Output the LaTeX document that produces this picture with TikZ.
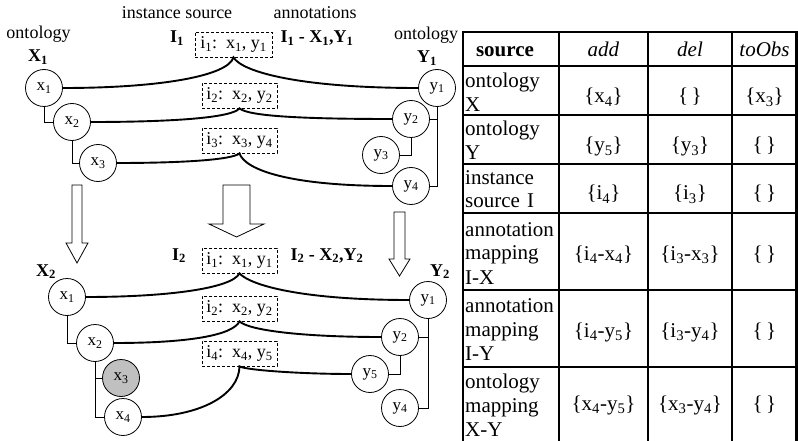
\documentclass[tikz,border=0pt]{standalone}
\usepackage{fontspec}
\setmainfont{Liberation Serif}
\newcommand{\sbs}[1]{\textsubscript{#1}}
\begin{document}
\begin{tikzpicture}[x=1pt,y=-1pt,
  lbl/.style={font=\fontsize{18}{21}\selectfont, inner sep=0, anchor=base},
  blbl/.style={font=\fontsize{18}{21}\selectfont\bfseries, inner sep=0, anchor=base},
  cnode/.style={circle, draw, line width=0.8pt, minimum size=37pt, inner sep=0, font=\fontsize{17}{20}\selectfont},
  ibox/.style={draw, dashed, dash pattern=on 3pt off 2pt, line width=0.7pt, minimum height=25pt, inner sep=0, font=\fontsize{18}{21}\selectfont},
  link/.style={line width=1.9pt},
  tree/.style={line width=0.8pt},
  barrow/.style={draw, line width=0.8pt, fill=white},
  tline/.style={line width=2.2pt},
  ccell/.style={font=\fontsize{21}{24}\selectfont, inner sep=0, anchor=base},
  lcell/.style={font=\fontsize{21}{24}\selectfont, inner sep=0, anchor=base west, text width=94pt, align=left},
]
\fill[white] (0,0) rectangle (798,441);
\useasboundingbox (0,0) rectangle (798,441);

% ---------- top state ----------
\node[lbl] (lonto) at (38.5,39) {ontology};
\node[blbl] (lX1) at (38,62) {X\sbs{1}};
\node[lbl] (linst) at (177,19) {instance source};
\node[lbl] (lann) at (315,19) {annotations};
\node[blbl] (lI1) at (177,43) {I\sbs{1}};
\node[blbl] (lIX1) at (317,43) {I\sbs{1} - X\sbs{1},Y\sbs{1}};
\node[lbl] (ronto) at (426,40) {ontology};
\node[blbl] (lY1) at (427,63) {Y\sbs{1}};

\node[cnode] (ax1) at (44,88) {x\sbs{1}};
\node[cnode] (ax2) at (72,122) {x\sbs{2}};
\node[cnode] (ax3) at (98,163) {x\sbs{3}};
\node[cnode] (ay1) at (437,88) {y\sbs{1}};
\node[cnode] (ay2) at (411,119) {y\sbs{2}};
\node[cnode] (ay3) at (381,155) {y\sbs{3}};
\node[cnode] (ay4) at (411,186) {y\sbs{4}};

\node[ibox, minimum width=77pt] (ab1) at (233.5,44.5) {i\sbs{1}:\ \ x\sbs{1}, y\sbs{1}};
\node[ibox, minimum width=75pt] (ab2) at (239.5,95.5) {i\sbs{2}:\ \ x\sbs{2}, y\sbs{2}};
\node[ibox, minimum width=75pt] (ab3) at (239.5,140.5) {i\sbs{3}:\ \ x\sbs{3}, y\sbs{4}};

\draw[tree] (ax1.south) |- (ax2.west);
\draw[tree] (ax2.south) |- (ax3.west);
\draw[tree] (ay1.south) |- (ay2.east);
\draw[tree] (ay1.south) |- (ay4.east);
\draw[tree] (ay2.south) |- (ay3.east);

\draw[link] (ax1.east) .. controls (160,88) and (228,76) .. (ab1.south) .. controls (242,72) and (300,88) .. (ay1.west);
\draw[link] (ax2.east) .. controls (170,122) and (232,118) .. (ab2.south) .. controls (248,116) and (300,119) .. (ay2.west);
\draw[link] (ax3.east) .. controls (180,163) and (232,160) .. (ab3.south) .. controls (245,170) and (290,186) .. (ay4.west);

% ---------- block arrows ----------
\draw[barrow] (72,185) -- (82,185) -- (82,243) -- (88,243) -- (77,263) -- (66,243) -- (72,243) -- cycle;
\draw[barrow] (223,185) -- (250,185) -- (250,224) -- (264,224) -- (236.5,237) -- (209,224) -- (223,224) -- cycle;
\draw[barrow] (394,212) -- (405,212) -- (405,259) -- (410,259) -- (399.5,276) -- (389,259) -- (394,259) -- cycle;

% ---------- bottom state ----------
\node[blbl] (lI2) at (179,260) {I\sbs{2}};
\node[blbl] (lIX2) at (327,260) {I\sbs{2} - X\sbs{2},Y\sbs{2}};
\node[blbl] (lX2) at (46,276) {X\sbs{2}};
\node[blbl] (lY2) at (440,276) {Y\sbs{2}};

\node[cnode] (bx1) at (67,297) {x\sbs{1}};
\node[cnode] (bx2) at (95,343) {x\sbs{2}};
\node[cnode, fill={rgb,255:red,192;green,192;blue,192}] (bx3) at (121,378) {x\sbs{3}};
\node[cnode] (bx4) at (123,417) {x\sbs{4}};
\node[cnode] (by1) at (428,300) {y\sbs{1}};
\node[cnode] (by2) at (400,337) {y\sbs{2}};
\node[cnode] (by5) at (370,374) {y\sbs{5}};
\node[cnode] (by4) at (400,408) {y\sbs{4}};

\node[ibox, minimum width=75pt] (bb1) at (239.5,260.5) {i\sbs{1}:\ \ x\sbs{1}, y\sbs{1}};
\node[ibox, minimum width=75pt] (bb2) at (239.5,308.5) {i\sbs{2}:\ \ x\sbs{2}, y\sbs{2}};
\node[ibox, minimum width=75pt] (bb4) at (239.5,353.5) {i\sbs{4}:\ \ x\sbs{4}, y\sbs{5}};

\draw[tree] (bx1.south) |- (bx2.west);
\draw[tree] (bx2.south) |- (bx3.west);
\draw[tree] (bx2.south) |- (bx4.west);
\draw[tree] (by1.south) |- (by2.east);
\draw[tree] (by1.south) |- (by4.east);
\draw[tree] (by2.south) |- (by5.east);

\draw[link] (bx1.east) .. controls (170,297) and (232,288) .. (bb1.south) .. controls (250,285) and (300,300) .. (by1.west);
\draw[link] (bx2.east) .. controls (190,343) and (233,335) .. (bb2.south) .. controls (248,330) and (300,337) .. (by2.west);
\draw[link] (bx4.east) .. controls (200,417) and (239,395) .. (bb4.south) .. controls (245,370) and (300,374) .. (by5.west);

% ---------- table ----------
\foreach \xx in {463,559,648,732,796.5} \draw[tline] (\xx,32) -- (\xx,441);
\foreach \yy in {32,66,115,164,213,290,367} \draw[tline] (462,\yy) -- (797.5,\yy);

\node[ccell] (h1) at (505,57) {\textbf{source}};
\node[ccell] (h2) at (603.5,57) {\textit{add}};
\node[ccell] (h3) at (690,57) {\textit{del}};
\node[ccell] (h4) at (764.5,57) {\textit{toObs}};

\node[lcell] (r1) at (465,88) {ontology\\X};
\node[lcell] (r2) at (465,136) {ontology\\Y};
\node[lcell] (r3) at (465,184) {instance\\source I};
\node[lcell] (r4) at (465,236) {annotation\\mapping\\I-X};
\node[lcell] (r5) at (465,312) {annotation\\mapping\\I-Y};
\node[lcell] (r6) at (465,388) {ontology\\mapping\\X-Y};

\node[ccell] (c12) at (603.5,103) {\{x\sbs{4}\}};
\node[ccell] (c13) at (690,103) {\{\,\}};
\node[ccell] (c14) at (764.5,103) {\{x\sbs{3}\}};
\node[ccell] (c22) at (603.5,152) {\{y\sbs{5}\}};
\node[ccell] (c23) at (690,152) {\{y\sbs{3}\}};
\node[ccell] (c24) at (764.5,152) {\{\,\}};
\node[ccell] (c32) at (603.5,200) {\{i\sbs{4}\}};
\node[ccell] (c33) at (690,200) {\{i\sbs{3}\}};
\node[ccell] (c34) at (764.5,200) {\{\,\}};
\node[ccell] (c42) at (603.5,260) {\{i\sbs{4}-x\sbs{4}\}};
\node[ccell] (c43) at (690,260) {\{i\sbs{3}-x\sbs{3}\}};
\node[ccell] (c44) at (764.5,260) {\{\,\}};
\node[ccell] (c52) at (603.5,337) {\{i\sbs{4}-y\sbs{5}\}};
\node[ccell] (c53) at (690,337) {\{i\sbs{3}-y\sbs{4}\}};
\node[ccell] (c54) at (764.5,337) {\{\,\}};
\node[ccell] (c62) at (603.5,410) {\{x\sbs{4}-y\sbs{5}\}};
\node[ccell] (c63) at (690,410) {\{x\sbs{3}-y\sbs{4}\}};
\node[ccell] (c64) at (764.5,410) {\{\,\}};
\end{tikzpicture}
\end{document}
